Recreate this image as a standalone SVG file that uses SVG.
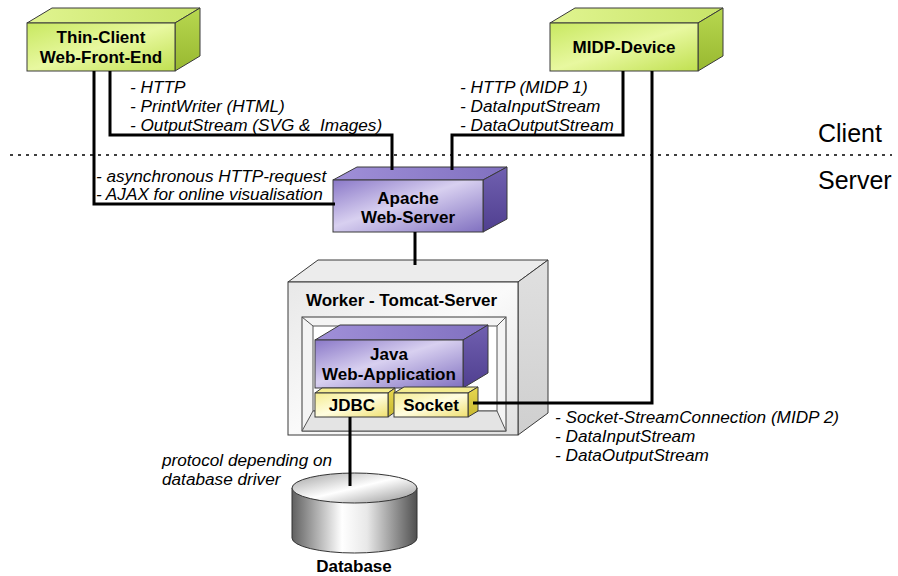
<svg xmlns="http://www.w3.org/2000/svg" width="898" height="576" viewBox="0 0 898 576">
<style>
.edge{fill:none;stroke:#000;stroke-width:3}
.bx{stroke:#3a3a3a;stroke-width:1}
.nl{font-family:"Liberation Sans",Arial,sans-serif;font-weight:bold;font-size:17px;fill:#000;text-anchor:middle}
.lb{font-family:"Liberation Sans",Arial,sans-serif;font-style:italic;font-size:17.2px;fill:#000}
.zone{font-family:"Liberation Sans",Arial,sans-serif;font-size:25px;fill:#000}
</style>
<defs>
<linearGradient id="gF" x1="0" y1="0" x2="1" y2="1"><stop offset="0" stop-color="#c8e860"/><stop offset="0.5" stop-color="#e8f8a0"/><stop offset="1" stop-color="#c0e050"/></linearGradient>
<linearGradient id="gT" x1="0" y1="0" x2="1" y2="0"><stop offset="0" stop-color="#e0f490"/><stop offset="1" stop-color="#c8e468"/></linearGradient>
<linearGradient id="gS" x1="0" y1="0" x2="0" y2="1"><stop offset="0" stop-color="#b8d850"/><stop offset="1" stop-color="#98b830"/></linearGradient>
<linearGradient id="pF" x1="0" y1="0" x2="1" y2="1"><stop offset="0" stop-color="#8a78c8"/><stop offset="0.45" stop-color="#d8d0f0"/><stop offset="1" stop-color="#8070c0"/></linearGradient>
<linearGradient id="pT" x1="0" y1="0" x2="1" y2="0"><stop offset="0" stop-color="#a090d8"/><stop offset="1" stop-color="#8070c0"/></linearGradient>
<linearGradient id="pS" x1="0" y1="0" x2="0" y2="1"><stop offset="0" stop-color="#7060b0"/><stop offset="1" stop-color="#503f90"/></linearGradient>
<linearGradient id="yF" x1="0" y1="0" x2="1" y2="1"><stop offset="0" stop-color="#f4ec90"/><stop offset="0.5" stop-color="#fffde0"/><stop offset="1" stop-color="#f0e070"/></linearGradient>
<linearGradient id="yS" x1="0" y1="0" x2="0" y2="1"><stop offset="0" stop-color="#e8d850"/><stop offset="1" stop-color="#c8b830"/></linearGradient>
<linearGradient id="wF" x1="0" y1="0" x2="1" y2="1"><stop offset="0" stop-color="#e8e8e8"/><stop offset="0.5" stop-color="#fafafa"/><stop offset="1" stop-color="#e0e0e0"/></linearGradient>
<linearGradient id="wS" x1="0" y1="0" x2="0" y2="1"><stop offset="0" stop-color="#e0e0e0"/><stop offset="1" stop-color="#cfcfcf"/></linearGradient>
<linearGradient id="dbG" x1="0" y1="0" x2="1" y2="0"><stop offset="0" stop-color="#606060"/><stop offset="0.4" stop-color="#ffffff"/><stop offset="0.6" stop-color="#e8e8e8"/><stop offset="1" stop-color="#505050"/></linearGradient>
<linearGradient id="dbT" x1="0" y1="0" x2="1" y2="1"><stop offset="0" stop-color="#a0a0a0"/><stop offset="0.5" stop-color="#ffffff"/><stop offset="1" stop-color="#909090"/></linearGradient>
</defs>
<rect width="898" height="576" fill="#fff"/>
<line x1="10" y1="155" x2="892" y2="155" stroke="#000" stroke-width="1.3" stroke-dasharray="3,5"/>
<text class="zone" x="818" y="142">Client</text>
<text class="zone" x="818" y="189">Server</text>

<g id="thin-client">
<polygon class="bx" points="27,23 52,8 200,8 175,23" fill="url(#gT)"/>
<polygon class="bx" points="175,23 200,8 200,56 175,71" fill="url(#gS)"/>
<rect class="bx" x="27" y="23" width="148" height="48" fill="url(#gF)"/>
<text class="nl" x="101" y="43">Thin-Client</text>
<text class="nl" x="101" y="63">Web-Front-End</text>
</g>

<g id="midp-device">
<polygon class="bx" points="550,23 575,8 723,8 698,23" fill="url(#gT)"/>
<polygon class="bx" points="698,23 723,8 723,56 698,71" fill="url(#gS)"/>
<rect class="bx" x="550" y="23" width="148" height="48" fill="url(#gF)"/>
<text class="nl" x="624" y="53">MIDP-Device</text>
</g>

<g id="apache">
<polygon class="bx" points="333,180 357,167 507,167 483,180" fill="url(#pT)"/>
<polygon class="bx" points="483,180 507,167 507,219 483,232" fill="url(#pS)"/>
<rect class="bx" x="333" y="180" width="150" height="52" fill="url(#pF)"/>
<text class="nl" x="408" y="204">Apache</text>
<text class="nl" x="408" y="223">Web-Server</text>
</g>

<g id="tomcat">
<polygon class="bx" points="288,282 318,260 548,260 518,282" fill="#ececec"/>
<polygon class="bx" points="518,282 548,260 548,413 518,435" fill="url(#wS)"/>
<rect class="bx" x="288" y="282" width="230" height="153" fill="url(#wF)"/>
<rect class="bx" x="302" y="317" width="204" height="114" fill="#f4f4f4"/>
<rect x="313" y="326" width="184" height="85" fill="#ffffff" stroke="#555" stroke-width="1"/>
<polygon points="302,431 313,411 497,411 506,431" fill="#e4e4e4" stroke="#555" stroke-width="1"/>
<line x1="302" y1="317" x2="313" y2="326" stroke="#555"/>
<line x1="506" y1="317" x2="497" y2="326" stroke="#555"/>
<text class="nl" x="306" y="306" style="text-anchor:start">Worker - Tomcat-Server</text>
</g>

<g id="java-webapp">
<polygon class="bx" points="315,340 340,325 488,325 463,340" fill="url(#pT)"/>
<polygon class="bx" points="463,340 488,325 488,373 463,388" fill="url(#pS)"/>
<rect class="bx" x="315" y="340" width="148" height="48" fill="url(#pF)"/>
<text class="nl" x="389" y="360">Java</text>
<text class="nl" x="389" y="380">Web-Application</text>
</g>

<g id="jdbc">
<polygon class="bx" points="315,393 322,388 395,388 388,393" fill="#f4ec90"/>
<polygon class="bx" points="388,393 395,388 395,412 388,417" fill="url(#yS)"/>
<rect class="bx" x="315" y="393" width="73" height="24" fill="url(#yF)"/>
<text class="nl" x="352" y="411">JDBC</text>
</g>

<g id="socket">
<polygon class="bx" points="394,393 404,387 478,387 468,393" fill="#f4ec90"/>
<polygon class="bx" points="468,393 478,387 478,411 468,417" fill="url(#yS)"/>
<rect class="bx" x="394" y="393" width="74" height="24" fill="url(#yF)"/>
<text class="nl" x="431" y="411">Socket</text>
</g>

<g id="database">
<path d="M292,488 V538 A62.5,15 0 0 0 417,538 V488 Z" fill="url(#dbG)" stroke="#333" stroke-width="1"/>
<ellipse cx="354.5" cy="488" rx="62.5" ry="15" fill="url(#dbT)" stroke="#333" stroke-width="1"/>
<text class="nl" x="354" y="572">Database</text>
</g>

<g id="connectors">
<path class="edge" d="M94,71 V204 H335"/>
<path class="edge" d="M110,71 V135 H392 V170"/>
<path class="edge" d="M623,71 V135 H452 V170"/>
<path class="edge" d="M652,71 V403 H473"/>
<path class="edge" d="M415,232 V265"/>
<path class="edge" d="M350,417 V486"/>
</g>

<g id="labels">
<text class="lb" x="130" y="93">- HTTP</text>
<text class="lb" x="130" y="112">- PrintWriter (HTML)</text>
<text class="lb" x="130" y="131" xml:space="preserve">- OutputStream (SVG &amp;  Images)</text>
<text class="lb" x="96" y="182">- asynchronous HTTP-request</text>
<text class="lb" x="96" y="200">- AJAX for online visualisation</text>
<text class="lb" x="460" y="93">- HTTP (MIDP 1)</text>
<text class="lb" x="460" y="112">- DataInputStream</text>
<text class="lb" x="460" y="131">- DataOutputStream</text>
<text class="lb" x="555" y="423">- Socket-StreamConnection (MIDP 2)</text>
<text class="lb" x="555" y="442">- DataInputStream</text>
<text class="lb" x="555" y="461">- DataOutputStream</text>
<text class="lb" x="162" y="466">protocol depending on</text>
<text class="lb" x="162" y="485">database driver</text>
</g>
</svg>
